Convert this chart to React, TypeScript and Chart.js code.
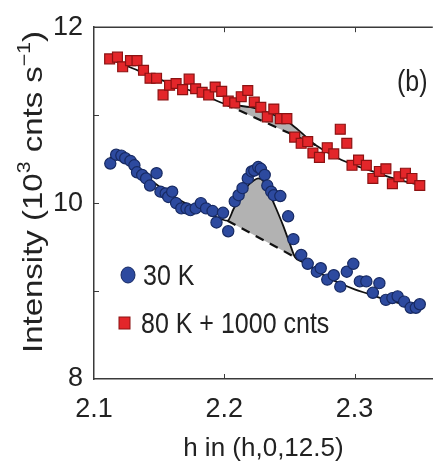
import React, { useEffect, useRef } from 'react';
import { Chart, registerables } from 'chart.js';

Chart.register(...registerables);

// ---- data ----
const blueX = [2.1125, 2.117, 2.121, 2.124, 2.128, 2.131, 2.133, 2.137, 2.140, 2.143, 2.148, 2.151, 2.155, 2.157, 2.160, 2.163, 2.167, 2.171, 2.174, 2.178, 2.182, 2.186, 2.191, 2.194, 2.199, 2.203, 2.208, 2.211, 2.214, 2.218, 2.221, 2.223, 2.226, 2.228, 2.231, 2.233, 2.236, 2.238, 2.243, 2.249, 2.253, 2.259, 2.264, 2.271, 2.274, 2.279, 2.284, 2.289, 2.294, 2.299, 2.304, 2.309, 2.314, 2.319, 2.324, 2.329, 2.333, 2.338, 2.343, 2.347, 2.350];
const blueY = [10.45, 10.55, 10.54, 10.51, 10.48, 10.43, 10.35, 10.32, 10.28, 10.20, 10.34, 10.13, 10.11, 10.07, 10.13, 10.00, 9.94, 9.94, 9.92, 9.94, 10.00, 9.94, 9.91, 9.78, 9.89, 9.68, 10.02, 10.09, 10.17, 10.28, 10.36, 10.37, 10.41, 10.39, 10.32, 10.20, 10.13, 10.09, 10.08, 9.85, 9.59, 9.41, 9.31, 9.22, 9.26, 9.13, 9.18, 9.05, 9.22, 9.31, 9.11, 9.11, 8.98, 9.09, 8.90, 8.92, 8.94, 8.88, 8.81, 8.81, 8.85];

const redX = [2.112, 2.118, 2.122, 2.128, 2.133, 2.138, 2.143, 2.148, 2.153, 2.158, 2.163, 2.168, 2.173, 2.178, 2.183, 2.188, 2.193, 2.198, 2.203, 2.208, 2.213, 2.218, 2.223, 2.228, 2.233, 2.238, 2.243, 2.248, 2.254, 2.259, 2.264, 2.268, 2.273, 2.279, 2.284, 2.289, 2.294, 2.298, 2.303, 2.309, 2.314, 2.319, 2.324, 2.329, 2.334, 2.339, 2.344, 2.350];
const redY = [11.64, 11.66, 11.55, 11.62, 11.62, 11.51, 11.42, 11.42, 11.23, 11.34, 11.36, 11.29, 11.41, 11.30, 11.26, 11.23, 11.32, 11.27, 11.16, 11.14, 11.21, 11.28, 11.15, 11.09, 10.98, 11.07, 10.96, 10.96, 10.75, 10.68, 10.70, 10.57, 10.52, 10.63, 10.56, 10.84, 10.68, 10.43, 10.49, 10.43, 10.28, 10.36, 10.39, 10.22, 10.30, 10.34, 10.28, 10.20];

const blueFitX = [2.112, 2.12, 2.13, 2.14, 2.15, 2.16, 2.17, 2.18, 2.19, 2.2025, 2.207, 2.212, 2.217, 2.222, 2.226, 2.23, 2.235, 2.24, 2.245, 2.25, 2.2543, 2.26, 2.27, 2.28, 2.29, 2.30, 2.31, 2.32, 2.33, 2.34, 2.352];
const blueFitY = [10.52, 10.49, 10.41, 10.30, 10.19, 10.09, 10.0, 9.93, 9.87, 9.80, 9.93, 10.07, 10.18, 10.25, 10.28, 10.25, 10.10, 9.93, 9.75, 9.55, 9.385, 9.33, 9.24, 9.15, 9.08, 9.02, 8.97, 8.92, 8.88, 8.84, 8.80];
const blueBgX = [2.2025, 2.2543];
const blueBgY = [9.80, 9.385];

const redFitX = [2.112, 2.13, 2.15, 2.17, 2.19, 2.2, 2.21, 2.22, 2.23, 2.24, 2.25, 2.26, 2.27, 2.28, 2.29, 2.30, 2.31, 2.32, 2.33, 2.34, 2.352];
const redFitY = [11.64, 11.53, 11.41, 11.30, 11.19, 11.13, 11.11, 11.09, 11.05, 10.99, 10.91, 10.79, 10.66, 10.57, 10.49, 10.43, 10.38, 10.33, 10.28, 10.24, 10.20];
const redBgX = [2.2, 2.27];
const redBgY = [11.13, 10.66];

const xTicks = [2.1, 2.2, 2.3];
const yTicks = [8, 10, 12];
const yMinorTicks = [9, 11];
const seriesLabels = ['30 K', '80 K + 1000 cnts'];
const panelLabel = '(b)';
const xTitle = 'h in (h,0,12.5)';

// ---- styles ----
const FONT = "'Liberation Sans', Arial, Helvetica, sans-serif";
const TEXT = '#222';
const AXIS = '#3a3a3a';
const BLUE = '#2d4a9f';
const BLUE_EDGE = '#172a63';
const RED = '#e3262a';
const RED_EDGE = '#8c1212';
const GRAY = 'rgba(178,178,178,1)';

const pts = (xs: number[], ys: number[]) => xs.map((x, i) => ({ x, y: ys[i] }));
const sub = (xs: number[], ys: number[], a: number, b: number) =>
  pts(xs, ys).filter((p) => p.x >= a - 1e-9 && p.x <= b + 1e-9);

const overlay = {
  id: 'overlay',
  afterDraw(chart: any) {
    const { ctx, chartArea } = chart;
    const xs = chart.scales.x;
    const ys = chart.scales.y;
    ctx.save();
    ctx.strokeStyle = AXIS;
    ctx.lineWidth = 1.5;
    // top frame line
    ctx.beginPath();
    ctx.moveTo(chartArea.left, chartArea.top);
    ctx.lineTo(chartArea.right, chartArea.top);
    ctx.stroke();
    // inward ticks
    ctx.lineWidth = 1;
    ctx.beginPath();
    xTicks.slice(1).forEach((v) => {
      const px = Math.round(xs.getPixelForValue(v)) + 0.5;
      ctx.moveTo(px, chartArea.bottom);
      ctx.lineTo(px, chartArea.bottom - 5);
      ctx.moveTo(px, chartArea.top);
      ctx.lineTo(px, chartArea.top + 5);
    });
    [...yMinorTicks, 10].forEach((v) => {
      const py = Math.round(ys.getPixelForValue(v)) + 0.5;
      ctx.moveTo(chartArea.left, py);
      ctx.lineTo(chartArea.left + 5, py);
    });
    ctx.stroke();

    const stretchText = (t: string, x: number, cy: number, size: number, sy: number) => {
      ctx.save();
      ctx.translate(x, cy);
      ctx.scale(1, sy);
      ctx.font = `${size}px ${FONT}`;
      ctx.fillStyle = TEXT;
      ctx.textAlign = 'left';
      ctx.textBaseline = 'alphabetic';
      ctx.fillText(t, 0, 0.358 * size);
      ctx.restore();
    };

    // legend
    ctx.fillStyle = BLUE;
    ctx.strokeStyle = BLUE_EDGE;
    ctx.lineWidth = 1;
    ctx.beginPath();
    ctx.ellipse(128, 275, 7, 8, 0, 0, Math.PI * 2);
    ctx.fill();
    ctx.stroke();
    stretchText(seriesLabels[0], 143, 275, 25, 1.15);
    ctx.fillStyle = RED;
    ctx.strokeStyle = RED_EDGE;
    ctx.fillRect(119, 317, 11, 12);
    ctx.strokeRect(119, 317, 11, 12);
    stretchText(seriesLabels[1], 141, 323, 25, 1.15);

    // panel label
    stretchText(panelLabel, 397, 81, 25, 1.15);

    // y axis title with superscripts
    const main = 28;
    const sup = 18;
    const parts: [string, number][] = [
      ['Intensity (10', main],
      ['3', sup],
      [' cnts s', main],
      ['\u22121', sup],
      [')', main],
    ];
    let total = 0;
    parts.forEach(([t, s]) => {
      ctx.font = `${s}px ${FONT}`;
      total += ctx.measureText(t).width;
    });
    const target = 322;
    ctx.save();
    ctx.translate(42, 192);
    ctx.rotate(-Math.PI / 2);
    ctx.scale(target / total, 1);
    ctx.fillStyle = TEXT;
    ctx.textBaseline = 'alphabetic';
    ctx.textAlign = 'left';
    let cx = -total / 2;
    parts.forEach(([t, s]) => {
      ctx.font = `${s}px ${FONT}`;
      ctx.fillText(t, cx, s === sup ? -12 : 0);
      cx += ctx.measureText(t).width;
    });
    ctx.restore();
    ctx.restore();
  },
};

export default function App() {
  const ref = useRef<HTMLCanvasElement | null>(null);
  useEffect(() => {
    if (!ref.current) return;
    const lineBase = {
      pointRadius: 0,
      borderColor: '#111',
      fill: false,
      cubicInterpolationMode: 'monotone' as const,
    };
    const chart = new Chart(ref.current, {
      type: 'line',
      data: {
        datasets: [
          {
            label: seriesLabels[0],
            data: pts(blueX, blueY),
            showLine: false,
            pointStyle: 'circle',
            pointRadius: 5.6,
            pointBorderWidth: 1.2,
            pointBackgroundColor: BLUE,
            pointBorderColor: BLUE_EDGE,
          },
          {
            label: seriesLabels[1],
            data: pts(redX, redY),
            showLine: false,
            pointStyle: 'rect',
            pointRadius: 7,
            pointBorderWidth: 1.2,
            pointBackgroundColor: RED,
            pointBorderColor: RED_EDGE,
          },
          { ...lineBase, label: 'fit30', data: pts(blueFitX, blueFitY), borderWidth: 1.8 },
          { ...lineBase, label: 'fit80', data: pts(redFitX, redFitY), borderWidth: 1.8 },
          { ...lineBase, label: 'bg30', data: pts(blueBgX, blueBgY), borderWidth: 2.2, borderDash: [9, 7] },
          { ...lineBase, label: 'bg80', data: pts(redBgX, redBgY), borderWidth: 2.2, borderDash: [9, 7] },
          {
            ...lineBase,
            label: 'peak30',
            data: sub(blueFitX, blueFitY, blueBgX[0], blueBgX[1]),
            borderWidth: 0,
            borderColor: 'rgba(0,0,0,0)',
            backgroundColor: GRAY,
            fill: 4,
          },
          {
            ...lineBase,
            label: 'peak80',
            data: sub(redFitX, redFitY, redBgX[0], redBgX[1]),
            borderWidth: 0,
            borderColor: 'rgba(0,0,0,0)',
            backgroundColor: GRAY,
            fill: 5,
          },
        ],
      },
      options: {
        animation: false,
        responsive: false,
        events: [],
        layout: { padding: { top: 21, right: 0, left: 0, bottom: 0 } },
        plugins: { legend: { display: false }, tooltip: { enabled: false } },
        scales: {
          x: {
            type: 'linear',
            min: 2.1,
            max: 2.36,
            grid: { display: false, drawTicks: false },
            border: { display: true, color: AXIS, width: 1.5 },
            afterBuildTicks: (s: any) => {
              s.ticks = xTicks.map((value) => ({ value }));
            },
            afterFit: (s: any) => {
              s.height = 93;
            },
            ticks: {
              color: TEXT,
              font: { family: FONT, size: 27 },
              padding: 14,
              maxRotation: 0,
              callback: (v: any) => Number(v).toFixed(1),
            },
            title: {
              display: true,
              text: xTitle,
              color: TEXT,
              font: { family: FONT, size: 26 },
              padding: { top: 0, bottom: 8 },
            },
          },
          y: {
            type: 'linear',
            min: 8,
            max: 12,
            grid: { display: false, drawTicks: false },
            border: { display: true, color: AXIS, width: 1.5 },
            afterBuildTicks: (s: any) => {
              s.ticks = yTicks.map((value) => ({ value }));
            },
            afterFit: (s: any) => {
              s.width = 94;
            },
            ticks: {
              color: TEXT,
              font: { family: FONT, size: 27 },
              padding: 11,
              callback: (v: any) => String(v),
            },
          },
        },
      },
      plugins: [overlay],
    });
    return () => chart.destroy();
  }, []);
  return (
    <div style={{ position: 'absolute', left: 0, top: 0, width: 441, height: 472, background: '#fff' }}>
      <canvas ref={ref} width={441} height={472} style={{ display: 'block' }} />
    </div>
  );
}
